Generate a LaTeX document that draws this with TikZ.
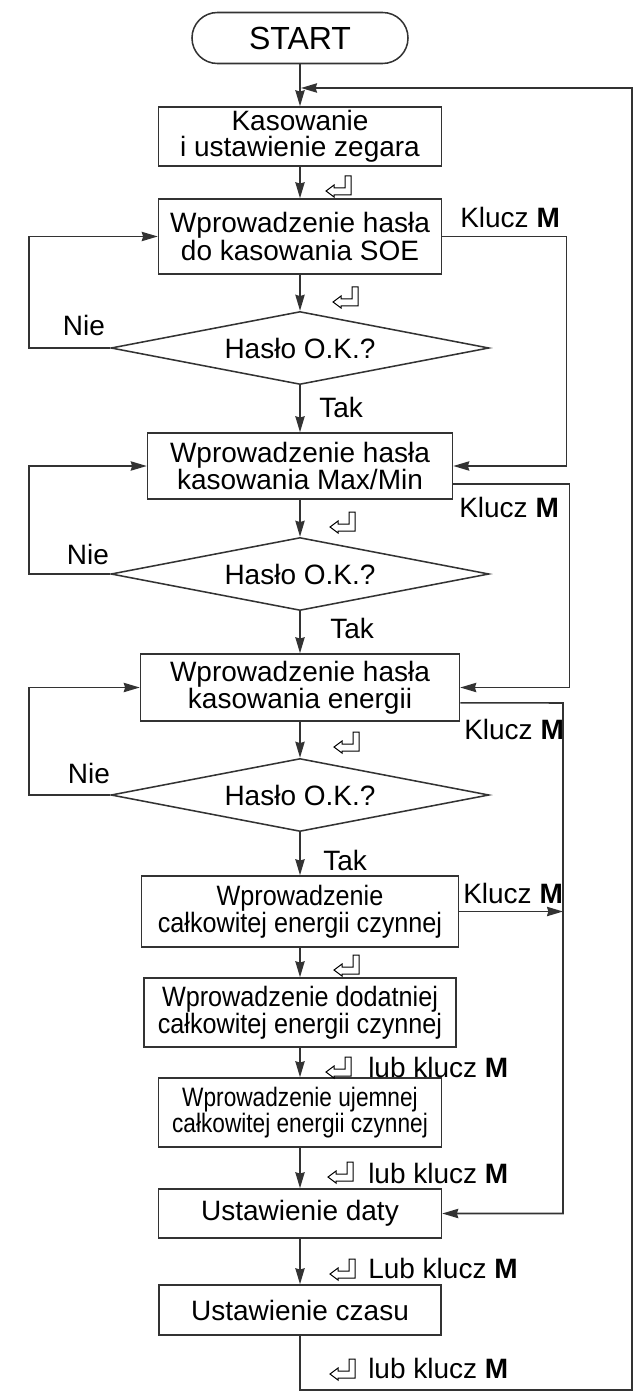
\documentclass[tikz,border=0pt]{standalone}
\usepackage{fontspec}
\setmainfont{Liberation Sans}
\newfontfamily\Lnarrow{Liberation Sans}[FakeStretch=0.9]
\newfontfamily\Lnarrower{Liberation Sans}[FakeStretch=0.85]
\usetikzlibrary{shapes.geometric,arrows.meta}

\tikzset{L4box/.style={draw=black!80,line width=1.15pt,fill=white,align=center,inner sep=0pt,
           font=\fontsize{21}{19.5}\selectfont},
         L4start/.style={L4box,rounded corners=19pt,font=\fontsize{24}{24}\selectfont},
         L4small/.style={L4box,font=\Lnarrow\fontsize{21}{19.5}\selectfont},
         L4tiny/.style={L4box,font=\Lnarrower\fontsize{20}{19}\selectfont},
         L4dia/.style={diamond,aspect=5.2,draw=black!80,line width=1.15pt,inner sep=0pt,
           font=\fontsize{21}{21}\selectfont},
         L4arr/.style={draw=black!80,line width=1.15pt,-{Stealth[length=12pt,width=7pt,inset=1pt]}},
         L4lab/.style={font=\fontsize{21}{21}\selectfont,inner sep=0pt,anchor=west},
         L4enter/.pic={\draw[line width=0.75pt] (0,15)--(8,9)--(8,12)--(19,12)--(19,0)--(25,0)
           --(25,19)--(8,19)--(8,21)--cycle;}}

\begin{document}
\begin{tikzpicture}[x=0.75pt,y=-0.75pt]
    \useasboundingbox (0,0) rectangle (636,1394);
    \foreach \n/\y/\w/\h/\s/\t in {start/38/216/51/L4start/START,
        b1/136.5/283/59/L4box/{Kasowanie\\i ustawienie zegara},
        b2/236.5/283/75/L4box/{Wprowadzenie hasła\\do kasowania SOE},
        b3/466/305/66/L4box/{Wprowadzenie hasła\\kasowania Max/Min},
        b4/687.5/319/67/L4box/{Wprowadzenie hasła\\kasowania energii},
        b5/911.5/317/71/L4small/{Wprowadzenie\\całkowitej energii czynnej},
        b6/1012.5/312/69/L4small/{Wprowadzenie dodatniej\\całkowitej energii czynnej},
        b7/1112.5/283/69/L4tiny/{Wprowadzenie ujemnej\\całkowitej energii czynnej},
        b8/1213.5/283/49/L4box/{Ustawienie daty},
        b9/1310/282/50/L4box/{Ustawienie czasu}}
      {\node[\s,minimum width=\w*0.75pt,minimum height=\h*0.75pt] (\n) at (300,\y) {\t};}
    \foreach \n/\y in {d1/348,d2/574,d3/795}
      {\node[L4dia,minimum width=378*0.75pt,minimum height=73*0.75pt] (\n) at (300,\y) {Hasło O.K.?};}
    \foreach \a/\b in {start/b1,b1/b2,b2/d1,d1/b3,b3/d2,d2/b4,b4/d3,d3/b5,b5/b6,b6/b7,b7/b8,b8/b9}
      \draw[L4arr] (\a) -- (\b);
    % return paths
    \coordinate (top) at (301,88); \coordinate (lp) at (632,1390); \coordinate (rv) at (563,703);
    \draw[L4arr] (b9.south) |- (lp) |- (top);
    \foreach \d/\b in {d1/b2,d2/b3,d3/b4} \draw[L4arr] (\d.west) -- ++(-81,0) |- (\b.west);
    \draw[L4arr] (b2.east) -- ++(124,0) |- (b3.east);
    \draw[L4arr] ([yshift=-13.5pt]b3.east) -- ++(116,0) |- (b4.east);
    \draw[L4arr] ([yshift=-11.5pt]b4.east) -- (rv) |- (b8.east);
    \draw[L4arr] (b5.east) -- (b5.east -| rv);
    % labels
    \foreach \x/\y/\n in {460/217/k1,459/507/k2,464/729/k3,463/893/k4}
      \node[L4lab] (\n) at (\x,\y) {Klucz \textbf{M}};
    \foreach \x/\y/\n in {84/325/n1,88/554/n2,89/773/n3} \node[L4lab,anchor=center] (\n) at (\x,\y) {Nie};
    \foreach \x/\y/\n in {319/407/t1,330/628/t2,323/860/t3} \node[L4lab] (\n) at (\x,\y) {Tak};
    \foreach \y/\n/\t in {1067/l1/lub,1173/l2/lub,1268/l3/Lub,1368/l4/lub}
      \node[L4lab] (\n) at (368,\y) {\t{} klucz \textbf{M}};
    \foreach \x/\y in {326/176,333/287,330/512,334/732,334/955,326/1057,328/1162,330/1259,330/1359}
      \pic at (\x,\y) {L4enter};
  \end{tikzpicture}
\end{document}
